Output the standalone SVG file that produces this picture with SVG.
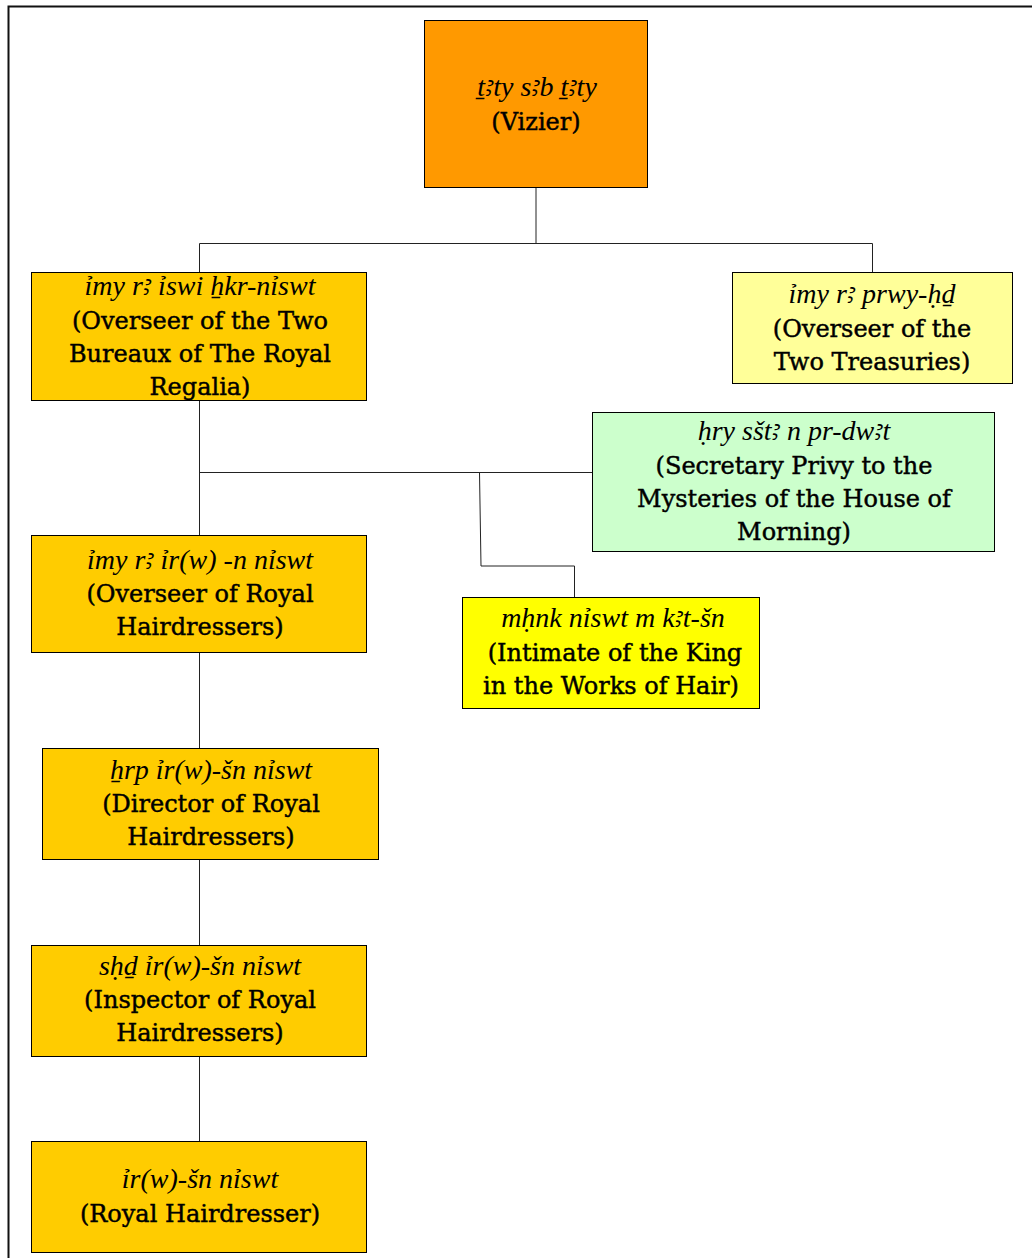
<svg xmlns="http://www.w3.org/2000/svg" width="1032" height="1258" viewBox="0 0 1032 1258">
<style>
.box{stroke:#000;stroke-width:1}
.tr{font-family:"Liberation Serif","DejaVu Serif","Noto Sans",serif;font-style:italic;font-size:28px;text-anchor:middle;fill:#000}
.en{font-family:"DejaVu Serif","Liberation Serif",serif;font-size:24px;text-anchor:middle;fill:#000;stroke:#000;stroke-width:0.45}
.ln{fill:none;stroke:#222;stroke-width:1}
</style>
<rect width="1032" height="1258" fill="#fff"/>
<path d="M8.5,1258 V6.5 H1032" fill="none" stroke="#111" stroke-width="2"/>
<g id="connectors">
<path class="ln" d="M536,188 V243.5 M199.5,272 V243.5 H872.5 V272"/>
<path class="ln" d="M199.5,390 V535"/>
<path class="ln" d="M199.5,472.5 H592"/>
<path class="ln" d="M479.5,472.5 L481,566 H574.5 V597"/>
<path class="ln" d="M199.5,653 V748"/>
<path class="ln" d="M199.5,860 V945"/>
<path class="ln" d="M199.5,1057 V1141"/>
</g>
<g id="vizier">
<rect class="box" x="424.5" y="20.5" width="223" height="167" fill="#FF9900"/>
<text class="tr" x="537" y="96">ṯꜣty sꜣb ṯꜣty</text>
<text class="en" x="536" y="130">(Vizier)</text>
</g>
<g id="overseer-bureaux">
<rect class="box" x="31.5" y="272.5" width="335" height="128" fill="#FFCC00"/>
<text class="tr" x="200" y="295">ỉmy rꜣ ỉswi ẖkr-nỉswt</text>
<text class="en" x="200" y="329">(Overseer of the Two</text>
<text class="en" x="200" y="362">Bureaux of The Royal</text>
<text class="en" x="200" y="395">Regalia)</text>
</g>
<g id="overseer-treasuries">
<rect class="box" x="732.5" y="272.5" width="280" height="111" fill="#FFFF99"/>
<text class="tr" x="872" y="303">ỉmy rꜣ prwy-ḥḏ</text>
<text class="en" x="872" y="337">(Overseer of the</text>
<text class="en" x="872" y="370">Two Treasuries)</text>
</g>
<g id="secretary">
<rect class="box" x="592.5" y="412.5" width="402" height="139" fill="#CCFFCC"/>
<text class="tr" x="794" y="440">ḥry sštꜣ n pr-dwꜣt</text>
<text class="en" x="794" y="474">(Secretary Privy to the</text>
<text class="en" x="794" y="507">Mysteries of the House of</text>
<text class="en" x="794" y="540">Morning)</text>
</g>
<g id="overseer-hairdressers">
<rect class="box" x="31.5" y="535.5" width="335" height="117" fill="#FFCC00"/>
<text class="tr" x="200" y="569">ỉmy rꜣ ỉr(w) -n nỉswt</text>
<text class="en" x="200" y="602">(Overseer of Royal</text>
<text class="en" x="200" y="635">Hairdressers)</text>
</g>
<g id="intimate">
<rect class="box" x="462.5" y="597.5" width="297" height="111" fill="#FFFF00"/>
<text class="tr" x="613" y="627">mḥnk nỉswt m kꜣt-šn</text>
<text class="en" x="615" y="661">(Intimate of the King</text>
<text class="en" x="611" y="694">in the Works of Hair)</text>
</g>
<g id="director">
<rect class="box" x="42.5" y="748.5" width="336" height="111" fill="#FFCC00"/>
<text class="tr" x="211" y="779">ẖrp ỉr(w)-šn nỉswt</text>
<text class="en" x="211" y="812">(Director of Royal</text>
<text class="en" x="211" y="845">Hairdressers)</text>
</g>
<g id="inspector">
<rect class="box" x="31.5" y="945.5" width="335" height="111" fill="#FFCC00"/>
<text class="tr" x="200" y="975">sḥḏ ỉr(w)-šn nỉswt</text>
<text class="en" x="200" y="1008">(Inspector of Royal</text>
<text class="en" x="200" y="1041">Hairdressers)</text>
</g>
<g id="hairdresser">
<rect class="box" x="31.5" y="1141.5" width="335" height="111" fill="#FFCC00"/>
<text class="tr" x="200" y="1188">ỉr(w)-šn nỉswt</text>
<text class="en" x="200" y="1222">(Royal Hairdresser)</text>
</g>
</svg>
